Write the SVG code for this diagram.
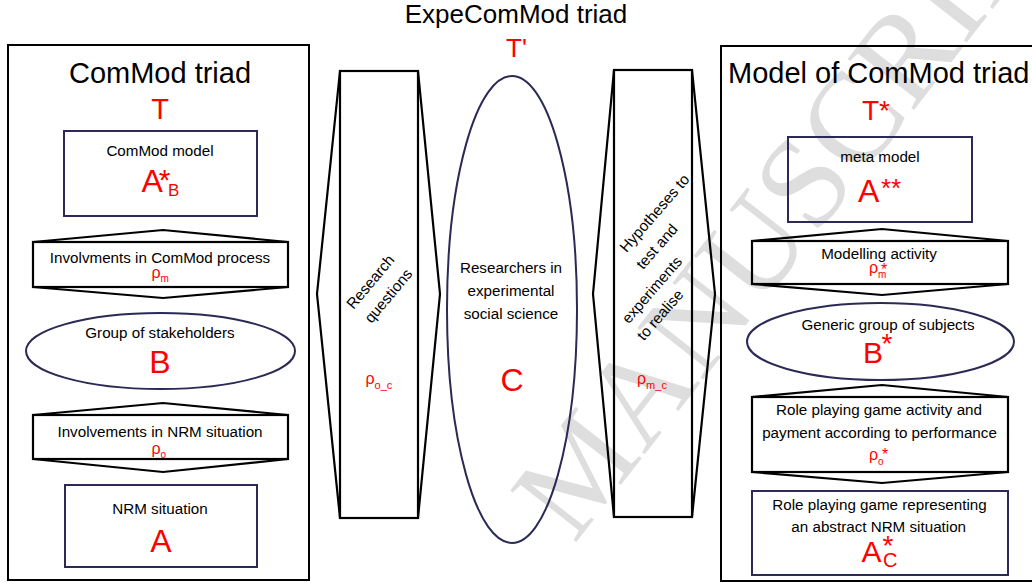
<svg xmlns="http://www.w3.org/2000/svg" width="1032" height="583" viewBox="0 0 1032 583">
<style>
text{font-family:"Liberation Sans",Arial,sans-serif;fill:#000}
.lbl{font-size:15.2px}
.ttl{font-size:29px}
.red{fill:#ff0000}
.big{font-size:32px}
.frame{fill:none;stroke:#000;stroke-width:2}
.navy{fill:none;stroke:#2a2a55;stroke-width:2}
.blk{fill:none;stroke:#000;stroke-width:2.2;stroke-linejoin:miter}
.wm{font-family:"Liberation Serif","Times New Roman",serif;font-size:128px;fill:#dedede}
</style>
<rect width="1032" height="583" fill="#fff"/>
<g id="watermark">
<text class="wm" transform="translate(574,545) rotate(-52)">MANUSCRIP</text>
</g>

<g id="left-panel">
<rect class="frame" x="8" y="45" width="301" height="535"/>
<text class="ttl" x="160" y="83" text-anchor="middle">ComMod triad</text>
<text class="red" x="160" y="119" font-size="29" text-anchor="middle">T</text>
</g>

<g id="node-commod-model">
<rect class="navy" x="64" y="131" width="193" height="85"/>
<text class="lbl" x="160" y="156" text-anchor="middle">ComMod model</text>
<text class="red big" x="141.5" y="192">A</text>
<text class="red" x="164.5" y="189.5" font-size="30" text-anchor="middle">*</text>
<text class="red" x="168" y="196" font-size="17">B</text>
</g>

<g id="node-involvments-commod">
<rect class="blk" x="33" y="242" width="255" height="45"/>
<path class="blk" d="M33,242 L163,230 L288,242 M33,287 L163,298 L288,287"/>
<text class="lbl" x="160" y="263" text-anchor="middle">Involvments in ComMod process</text>
<text class="red" x="151.5" y="277.5" font-size="16">ρ<tspan font-size="10" dy="4">m</tspan></text>
</g>

<g id="node-stakeholders">
<ellipse class="navy" cx="160.5" cy="351" rx="134.5" ry="38"/>
<text class="lbl" x="160" y="338" text-anchor="middle">Group of stakeholders</text>
<text class="red big" x="160" y="373" text-anchor="middle">B</text>
</g>

<g id="node-involvements-nrm">
<rect class="blk" x="33" y="415" width="255" height="44"/>
<path class="blk" d="M33,415 L163,403 L288,415 M33,459 L163,472 L288,459"/>
<text class="lbl" x="160" y="436.5" text-anchor="middle">Involvements in NRM situation</text>
<text class="red" x="151.5" y="453.5" font-size="16">ρ<tspan font-size="10" dy="4.5">o</tspan></text>
</g>

<g id="node-nrm-situation">
<rect class="navy" x="65" y="485" width="192" height="82"/>
<text class="lbl" x="160" y="514" text-anchor="middle">NRM situation</text>
<text class="red big" x="161" y="552" text-anchor="middle">A</text>
</g>

<g id="center">
<text x="516" y="23" font-size="26" text-anchor="middle">ExpeComMod triad</text>
<text class="red" x="516.5" y="57" font-size="26" text-anchor="middle">T'</text>
</g>

<g id="node-research-questions">
<rect class="blk" x="340" y="71" width="78" height="447"/>
<path class="blk" d="M340,71 L317,294 L340,518 M418,71 L440,294 L418,518"/>
<text class="lbl" text-anchor="middle" transform="translate(370.5,282) rotate(-50)" y="5">Research</text>
<text class="lbl" text-anchor="middle" transform="translate(388.5,296) rotate(-50)" y="5">questions</text>
<text class="red" x="365.5" y="383.5" font-size="16">ρ<tspan font-size="11" dy="5">o_c</tspan></text>
</g>

<g id="node-researchers">
<ellipse class="navy" cx="512" cy="309.5" rx="65" ry="233.5"/>
<text class="lbl" x="511" y="273" text-anchor="middle">Researchers in</text>
<text class="lbl" x="511" y="296" text-anchor="middle">experimental</text>
<text class="lbl" x="511" y="319" text-anchor="middle">social science</text>
<text class="red big" x="512" y="391" text-anchor="middle">C</text>
</g>

<g id="node-hypotheses">
<rect class="blk" x="614" y="70" width="78" height="447"/>
<path class="blk" d="M614,70 L593,294 L614,517 M692,70 L715,294 L692,517"/>
<text class="lbl" text-anchor="middle" transform="translate(654.7,213.3) rotate(-49)" y="5">Hypotheses to</text>
<text class="lbl" text-anchor="middle" transform="translate(657,246.7) rotate(-49)" y="5">test and</text>
<text class="lbl" text-anchor="middle" transform="translate(652,290) rotate(-49)" y="5">experiments</text>
<text class="lbl" text-anchor="middle" transform="translate(660.3,315) rotate(-49)" y="5">to realise</text>
<text class="red" x="637" y="383.5" font-size="16">ρ<tspan font-size="11" dy="5">m_c</tspan></text>
</g>

<g id="right-panel">
<rect class="frame" x="721" y="46" width="330" height="535"/>
<text class="ttl" x="728" y="83">Model of ComMod triad</text>
<text class="red" x="862" y="120" font-size="28">T*</text>
</g>

<g id="node-meta-model">
<rect class="navy" x="788" y="137" width="184" height="85"/>
<text class="lbl" x="880" y="162" text-anchor="middle">meta model</text>
<text class="red big" x="858" y="202">A</text>
<text class="red" x="881" y="197" font-size="26">**</text>
</g>

<g id="node-modelling-activity">
<rect class="blk" x="752" y="241" width="256" height="43"/>
<path class="blk" d="M752,241 L882,229 L1008,241 M752,284 L882,295 L1008,284"/>
<text class="lbl" x="879" y="259" text-anchor="middle">Modelling activity</text>
<text class="red" x="869" y="273" font-size="16">ρ<tspan font-size="10" dy="5">m</tspan></text>
<text class="red" x="884" y="274.5" font-size="16" text-anchor="middle">*</text>
</g>

<g id="node-generic-group">
<ellipse class="navy" cx="880.5" cy="341.5" rx="133.5" ry="38.5"/>
<text class="lbl" x="888" y="330" text-anchor="middle">Generic group of subjects</text>
<text class="red" x="863" y="363" font-size="30">B</text>
<text class="red" x="887" y="353" font-size="28" text-anchor="middle">*</text>
</g>

<g id="node-role-playing-activity">
<rect class="blk" x="752" y="397" width="256" height="75"/>
<path class="blk" d="M752,397 L882,385 L1008,397 M752,472 L882,483 L1008,472"/>
<text class="lbl" x="879" y="415" text-anchor="middle">Role playing game activity and</text>
<text class="lbl" x="879.5" y="437.5" text-anchor="middle">payment according to performance</text>
<text class="red" x="869" y="460" font-size="16">ρ<tspan font-size="10" dy="5">o</tspan></text>
<text class="red" x="885" y="459.5" font-size="16" text-anchor="middle">*</text>
</g>

<g id="node-role-playing-game">
<rect class="navy" x="752" y="491" width="256" height="84"/>
<text class="lbl" x="879.5" y="509.5" text-anchor="middle">Role playing game representing</text>
<text class="lbl" x="878.7" y="531.5" text-anchor="middle">an abstract NRM situation</text>
<text class="red" x="861.5" y="562" font-size="30">A</text>
<text class="red" x="888" y="555" font-size="28" text-anchor="middle">*</text>
<text class="red" x="883" y="567" font-size="20">C</text>
</g>

<g id="connectors"></g>
</svg>
